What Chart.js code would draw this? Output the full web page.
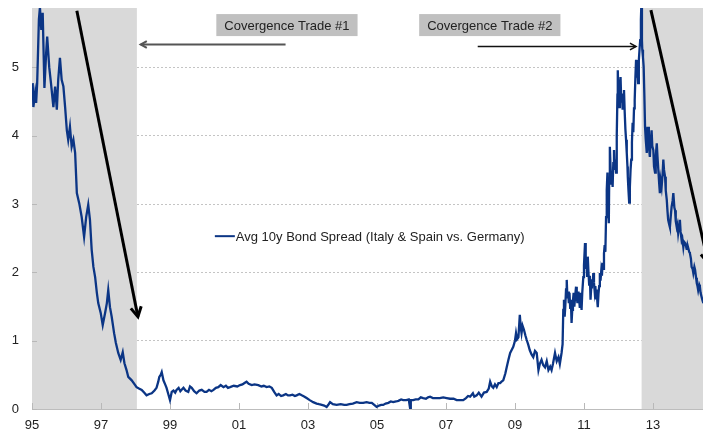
<!DOCTYPE html>
<html>
<head>
<meta charset="utf-8">
<title>Bond spread</title>
<script src="https://cdn.jsdelivr.net/npm/chart.js@4.4.1/dist/chart.umd.min.js"></script>
<style>
  html, body { margin: 0; padding: 0; background: #fff; }
  #wrap { width: 703px; height: 434px; }
</style>
</head>
<body>
<div id="wrap"><canvas id="chart"></canvas></div>
<script>
// Avg 10y spread of Italy & Spain over Germany (pct pts), by decimal year
const years = [
  1995.02, 1995.04, 1995.09, 1995.12, 1995.15, 1995.20, 1995.23, 1995.27, 1995.31, 1995.36,
  1995.41, 1995.44, 1995.50, 1995.55, 1995.62, 1995.67, 1995.72, 1995.76, 1995.81, 1995.86,
  1995.91, 1995.96, 1996.01, 1996.05, 1996.10, 1996.15, 1996.20, 1996.25, 1996.30, 1996.37,
  1996.44, 1996.51, 1996.57, 1996.63, 1996.68, 1996.73, 1996.78, 1996.83, 1996.88, 1996.92,
  1996.99, 1997.05, 1997.12, 1997.17, 1997.21, 1997.26, 1997.31, 1997.38, 1997.43, 1997.50,
  1997.57, 1997.63, 1997.68, 1997.74, 1997.79, 1997.89, 1997.99,
  1998.03, 1998.10, 1998.18, 1998.25, 1998.32, 1998.40, 1998.47, 1998.55, 1998.61, 1998.66,
  1998.69, 1998.73, 1998.76, 1998.81, 1998.86, 1998.90, 1998.95, 1999.00, 1999.05, 1999.10,
  1999.15, 1999.19, 1999.25, 1999.30, 1999.35, 1999.39, 1999.45, 1999.53, 1999.58, 1999.63,
  1999.70, 1999.77, 1999.85, 1999.92, 2000.00, 2000.06, 2000.13, 2000.20, 2000.26, 2000.33,
  2000.40, 2000.47, 2000.55, 2000.62, 2000.68, 2000.74, 2000.85, 2000.95, 2001.03, 2001.10,
  2001.16, 2001.22, 2001.28, 2001.37, 2001.45, 2001.56, 2001.65, 2001.72, 2001.80, 2001.88,
  2001.95, 2002.02, 2002.09, 2002.15, 2002.22, 2002.28, 2002.36, 2002.42, 2002.48, 2002.55,
  2002.62, 2002.67, 2002.75, 2002.82, 2002.90, 2002.96, 2003.05, 2003.15, 2003.25, 2003.32,
  2003.40, 2003.47, 2003.54, 2003.60, 2003.64, 2003.72, 2003.83, 2003.95, 2004.05, 2004.12,
  2004.20, 2004.30, 2004.41, 2004.50, 2004.60, 2004.70, 2004.78, 2004.85, 2004.92, 2004.99,
  2005.06, 2005.12, 2005.18, 2005.25, 2005.33, 2005.40, 2005.47, 2005.55, 2005.62, 2005.70,
  2005.76, 2005.85, 2005.92, 2005.96, 2005.98, 2006.05, 2006.12, 2006.20, 2006.27, 2006.34,
  2006.42, 2006.48, 2006.54, 2006.62, 2006.73, 2006.82, 2006.92, 2007.02, 2007.12, 2007.22,
  2007.31, 2007.40, 2007.50, 2007.58, 2007.64, 2007.70, 2007.78, 2007.82, 2007.89, 2007.95,
  2008.03, 2008.10, 2008.18, 2008.24, 2008.28, 2008.33, 2008.37, 2008.42, 2008.47, 2008.52,
  2008.57, 2008.61, 2008.66, 2008.72, 2008.76, 2008.81, 2008.86, 2008.90, 2008.95, 2009.00,
  2009.03, 2009.06, 2009.10, 2009.14, 2009.17, 2009.19, 2009.22, 2009.26, 2009.30, 2009.34,
  2009.38, 2009.43, 2009.48, 2009.53, 2009.58, 2009.63, 2009.68, 2009.72, 2009.77, 2009.82,
  2009.87, 2009.92, 2009.97, 2010.02, 2010.06, 2010.10, 2010.16, 2010.21, 2010.26, 2010.30,
  2010.35, 2010.38, 2010.40, 2010.42, 2010.44, 2010.46, 2010.48, 2010.50, 2010.52, 2010.54,
  2010.56, 2010.58, 2010.60, 2010.62, 2010.64, 2010.66, 2010.68, 2010.70, 2010.72, 2010.74,
  2010.77, 2010.79, 2010.81, 2010.84, 2010.86, 2010.88, 2010.90, 2010.93, 2010.95, 2010.98,
  2011.00, 2011.03, 2011.05, 2011.07, 2011.09, 2011.11, 2011.13, 2011.15, 2011.17, 2011.19,
  2011.21, 2011.23, 2011.25, 2011.27, 2011.29, 2011.31, 2011.33, 2011.35, 2011.37, 2011.39,
  2011.40, 2011.42, 2011.44, 2011.46, 2011.48, 2011.50, 2011.52, 2011.54, 2011.56, 2011.58,
  2011.60, 2011.62, 2011.64, 2011.66, 2011.68, 2011.70, 2011.72, 2011.73, 2011.75, 2011.77,
  2011.79, 2011.81, 2011.83, 2011.85, 2011.87, 2011.89, 2011.91, 2011.93, 2011.95, 2011.97,
  2011.98, 2012.00, 2012.02, 2012.04, 2012.06, 2012.08, 2012.10, 2012.12, 2012.14, 2012.16,
  2012.18, 2012.20, 2012.22, 2012.24, 2012.26, 2012.27, 2012.29, 2012.31, 2012.33, 2012.35,
  2012.37, 2012.39, 2012.41, 2012.43, 2012.45, 2012.47, 2012.49, 2012.51, 2012.53, 2012.55,
  2012.57, 2012.59, 2012.61, 2012.63, 2012.65, 2012.66, 2012.68, 2012.69, 2012.71, 2012.73,
  2012.75, 2012.77, 2012.79, 2012.82, 2012.84, 2012.86, 2012.88, 2012.91, 2012.93, 2012.96,
  2012.98, 2013.01, 2013.03, 2013.06, 2013.08, 2013.11, 2013.13, 2013.15, 2013.18, 2013.20,
  2013.22, 2013.25, 2013.28, 2013.30, 2013.32, 2013.35, 2013.37, 2013.40, 2013.42, 2013.44,
  2013.47, 2013.49, 2013.52, 2013.54, 2013.57, 2013.59, 2013.62, 2013.64, 2013.66, 2013.69,
  2013.71, 2013.73, 2013.76, 2013.78, 2013.80, 2013.83, 2013.85, 2013.88, 2013.90, 2013.93,
  2013.96, 2013.98, 2014.00, 2014.02, 2014.05, 2014.07, 2014.10, 2014.12, 2014.15, 2014.17,
  2014.20, 2014.22, 2014.25, 2014.27, 2014.29, 2014.31, 2014.34, 2014.36, 2014.38, 2014.41,
  2014.43, 2014.46
];
const spread = [
  4.77, 4.42, 4.63, 4.48, 4.77, 5.70, 5.88, 5.55, 5.80, 4.70,
  5.21, 5.45, 5.00, 4.77, 4.42, 4.72, 4.38, 4.82, 5.14, 4.82,
  4.72, 4.42, 4.08, 3.94, 4.13, 3.84, 3.94, 3.75, 3.16, 3.01,
  2.81, 2.52, 2.81, 2.99, 2.77, 2.33, 2.08, 1.93, 1.70, 1.55,
  1.41, 1.23, 1.41, 1.55, 1.74, 1.49, 1.35, 1.11, 0.97, 0.82,
  0.72, 0.83, 0.67, 0.57, 0.47, 0.42, 0.35,
  0.32, 0.30, 0.28, 0.24, 0.20, 0.22, 0.23, 0.27, 0.31, 0.40,
  0.47, 0.50, 0.54, 0.42, 0.36, 0.31, 0.22, 0.13, 0.25, 0.27,
  0.24, 0.28, 0.31, 0.26, 0.29, 0.31, 0.27, 0.25, 0.33, 0.31,
  0.26, 0.23, 0.27, 0.28, 0.25, 0.25, 0.28, 0.26, 0.28, 0.31,
  0.32, 0.35, 0.32, 0.34, 0.31, 0.32, 0.34, 0.33, 0.35, 0.36,
  0.38, 0.40, 0.37, 0.35, 0.36, 0.35, 0.33, 0.34, 0.32, 0.33,
  0.31, 0.25, 0.20, 0.22, 0.19, 0.20, 0.22, 0.20, 0.20, 0.21,
  0.19, 0.20, 0.22, 0.20, 0.18, 0.16, 0.13, 0.10, 0.08, 0.07,
  0.06, 0.05, 0.03, 0.07, 0.10, 0.07, 0.06, 0.07, 0.06, 0.06,
  0.07, 0.08, 0.10, 0.09, 0.09, 0.10, 0.09, 0.09, 0.06, 0.03,
  0.05, 0.06, 0.06, 0.08, 0.09, 0.11, 0.10, 0.11, 0.12, 0.14,
  0.13, 0.13, 0.14, 0.01, 0.13, 0.13, 0.14, 0.14, 0.17, 0.16,
  0.15, 0.17, 0.18, 0.16, 0.16, 0.16, 0.17, 0.16, 0.15, 0.15,
  0.13, 0.13, 0.13, 0.16, 0.19, 0.18, 0.23, 0.18, 0.20, 0.24,
  0.18, 0.24, 0.25, 0.30, 0.40, 0.33, 0.31, 0.36, 0.32, 0.38,
  0.38, 0.40, 0.42, 0.52, 0.61, 0.72, 0.82, 0.86, 0.91, 1.00,
  1.11, 1.02, 1.05, 1.38, 1.18, 1.11, 1.22, 1.16, 1.08, 1.01,
  0.95, 0.86, 0.80, 0.76, 0.85, 0.82, 0.57, 0.66, 0.72, 0.64,
  0.61, 0.70, 0.57, 0.62, 0.57, 0.66, 0.82, 0.70, 0.76, 0.66,
  0.82, 0.95, 1.45, 1.60, 1.35, 1.52, 1.75, 1.89, 1.62, 1.72,
  1.55, 1.70, 1.48, 1.60, 1.26, 1.45, 1.58, 1.70, 1.50, 1.62,
  1.79, 1.66, 1.55, 1.72, 1.60, 1.48, 1.70, 1.45, 1.70, 1.93,
  2.10, 2.43, 2.05, 2.20, 1.95, 2.23, 2.00, 1.82, 1.95, 1.60,
  1.78, 1.90, 1.80, 1.99, 1.85, 1.72, 1.80, 1.62, 1.75, 1.55,
  1.49, 1.68, 1.80, 1.99, 1.88, 2.02, 1.95, 2.14, 2.05, 2.28,
  2.40, 2.30, 2.81, 3.20, 3.46, 3.00, 2.72, 3.30, 3.84, 3.55,
  3.30, 3.45, 3.25, 3.60, 3.79, 3.50, 3.65, 3.46, 4.00, 4.60,
  4.96, 4.55, 4.42, 4.70, 4.86, 4.50, 4.62, 4.38, 4.55, 4.67,
  4.35, 4.10, 3.94, 3.75, 3.55, 3.40, 3.20, 3.02, 3.25, 3.50,
  3.65, 3.90, 4.19, 4.05, 4.40, 4.52, 4.85, 5.11, 4.85, 5.00,
  4.77, 5.10, 5.26, 5.40, 5.70, 5.87, 5.40, 5.26, 5.15, 5.01,
  4.60, 4.13, 3.95, 3.75, 3.95, 4.13, 3.85, 3.69, 3.90, 4.08,
  3.85, 3.79, 3.55, 3.46, 3.70, 3.89, 3.70, 3.54, 3.30, 3.16,
  3.35, 3.25, 3.45, 3.65, 3.50, 3.40, 3.20, 3.06, 2.90, 2.77,
  2.70, 2.66, 2.85, 2.96, 3.05, 3.16, 2.95, 2.91, 2.75, 2.66,
  2.70, 2.58, 2.70, 2.77, 2.60, 2.47, 2.50, 2.37, 2.45, 2.43,
  2.38, 2.33, 2.40, 2.36, 2.30, 2.28, 2.20, 2.08, 2.05, 1.99,
  2.08, 2.04, 1.92, 1.84, 1.80, 1.74, 1.82, 1.79, 1.70, 1.64,
  1.60, 1.55
];

const xTicks = [1995, 1997, 1999, 2001, 2003, 2005, 2007, 2009, 2011, 2013];
const yTicks = [0, 1, 2, 3, 4, 5];

// shaded periods (start/end year)
const shadeFrom = [1995, 2012.67];
const shadeTo = [1998.04, 2014.45];

// labelled boxes and the horizontal arrows beneath them
const tradeLabels = ['Covergence Trade #1', 'Covergence Trade #2'];
const tradeBoxAt = [[2002.39, 5.62], [2008.27, 5.62]];
const tradeArrowFrom = [[2002.35, 5.34], [2007.92, 5.31]];
const tradeArrowTo = [[1998.15, 5.34], [2012.51, 5.31]];

// falling-spread trend arrows
const trendFrom = [[1996.30, 5.83], [2012.94, 5.84]];
const trendTo = [[1998.07, 1.35], [2014.60, 2.14]];

const seriesName = 'Avg 10y Bond Spread (Italy & Spain vs. Germany)';
const legendAt = [2000.30, 2.53];

const NAVY = '#0b3585';
const FONT = '"Liberation Sans", Arial, sans-serif';

function arrow(ctx, x0, y0, x1, y1, color, width, head) {
    const ang = Math.atan2(y1 - y0, x1 - x0);
    ctx.strokeStyle = color;
    ctx.lineWidth = width;
    ctx.lineCap = 'butt';
    ctx.beginPath();
    ctx.moveTo(x0, y0);
    ctx.lineTo(x1, y1);
    ctx.stroke();
    ctx.beginPath();
    ctx.moveTo(x1 - head * Math.cos(ang - 0.5), y1 - head * Math.sin(ang - 0.5));
    ctx.lineTo(x1, y1);
    ctx.lineTo(x1 - head * Math.cos(ang + 0.5), y1 - head * Math.sin(ang + 0.5));
    ctx.stroke();
}

const decorations = {
    id: 'decorations',
    beforeDatasetsDraw(chart) {
        const { ctx, chartArea: a, scales: { x, y } } = chart;
        ctx.save();
        ctx.fillStyle = '#d9d9d9';
        shadeFrom.forEach((s, i) => {
            const x0 = x.getPixelForValue(s);
            const x1 = x.getPixelForValue(shadeTo[i]);
            ctx.fillRect(x0, a.top, x1 - x0, a.bottom - a.top);
        });
        // short inward tick marks on both axes
        ctx.strokeStyle = '#b8b8b8';
        ctx.lineWidth = 1;
        ctx.beginPath();
        xTicks.forEach(v => {
            const px = Math.round(x.getPixelForValue(v)) + 0.5;
            ctx.moveTo(px, a.bottom);
            ctx.lineTo(px, a.bottom - 6);
        });
        yTicks.forEach(v => {
            const py = Math.round(y.getPixelForValue(v)) + 0.5;
            ctx.moveTo(a.left, py);
            ctx.lineTo(a.left + 5, py);
        });
        ctx.stroke();
        ctx.restore();
    },
    afterDatasetsDraw(chart) {
        const { ctx, scales: { x, y } } = chart;
        ctx.save();

        // trend arrows
        trendFrom.forEach((p, i) => {
            const q = trendTo[i];
            arrow(ctx, x.getPixelForValue(p[0]), y.getPixelForValue(p[1]),
                x.getPixelForValue(q[0]), y.getPixelForValue(q[1]), '#000', 3, 11);
        });

        // trade labels
        ctx.font = '13px ' + FONT;
        ctx.textBaseline = 'middle';
        ctx.textAlign = 'center';
        tradeLabels.forEach((t, i) => {
            const cx = x.getPixelForValue(tradeBoxAt[i][0]);
            const cy = y.getPixelForValue(tradeBoxAt[i][1]);
            const w = ctx.measureText(t).width + 16;
            ctx.fillStyle = '#c0c0c0';
            ctx.fillRect(cx - w / 2, cy - 11, w, 22);
            ctx.fillStyle = '#222';
            ctx.fillText(t, cx, cy + 1);
        });
        const arrowColors = ['#555', '#111'];
        tradeArrowFrom.forEach((p, i) => {
            const q = tradeArrowTo[i];
            const py = Math.round(y.getPixelForValue(p[1])) + 0.5;
            arrow(ctx, x.getPixelForValue(p[0]), py, x.getPixelForValue(q[0]), py,
                arrowColors[i], i === 0 ? 2 : 1.5, 7);
        });

        // legend, sitting inside the plot
        const lx = x.getPixelForValue(legendAt[0]);
        const ly = y.getPixelForValue(legendAt[1]);
        ctx.strokeStyle = NAVY;
        ctx.lineWidth = 2;
        ctx.beginPath();
        ctx.moveTo(lx, ly);
        ctx.lineTo(lx + 20, ly);
        ctx.stroke();
        ctx.fillStyle = '#222';
        ctx.textAlign = 'left';
        ctx.fillText(seriesName, lx + 21, ly + 1);
        ctx.restore();
    }
};

new Chart(document.getElementById('chart'), {
    type: 'line',
    data: {
        datasets: [{
            label: seriesName,
            data: years.map((t, i) => ({ x: t, y: spread[i] })),
            borderColor: NAVY,
            borderWidth: 2.3,
            pointRadius: 0,
            tension: 0
        }]
    },
    options: {
        responsive: true,
        maintainAspectRatio: false,
        animation: false,
        layout: { padding: { top: 8, right: 0, left: 0, bottom: 0 } },
        plugins: { legend: { display: false }, tooltip: { enabled: false } },
        scales: {
            x: {
                type: 'linear',
                min: 1995,
                max: 2014.45,
                afterBuildTicks: s => { s.ticks = xTicks.map(v => ({ value: v })); },
                afterFit: s => { s.height = 25; s.paddingLeft = 0; s.paddingRight = 0; },
                grid: { drawOnChartArea: false, drawTicks: false },
                border: { color: '#bdbdbd' },
                ticks: {
                    padding: 9,
                    autoSkip: false,
                    maxRotation: 0,
                    color: '#222',
                    font: { family: FONT, size: 13 },
                    callback: v => String(v % 100).padStart(2, '0')
                }
            },
            y: {
                min: 0,
                max: 5.87,
                afterBuildTicks: s => { s.ticks = yTicks.map(v => ({ value: v })); },
                afterFit: s => { s.width = 32; s.paddingTop = 0; s.paddingBottom = 0; },
                grid: {
                    drawTicks: false,
                    color: c => c.tick && c.tick.value === 0 ? 'rgba(0,0,0,0)' : '#c4c4c4'
                },
                border: { color: '#d0d0d0', dash: [2, 2] },
                ticks: {
                    padding: 13,
                    color: '#222',
                    font: { family: FONT, size: 13 }
                }
            }
        }
    },
    plugins: [decorations]
});
</script>
</body>
</html>
